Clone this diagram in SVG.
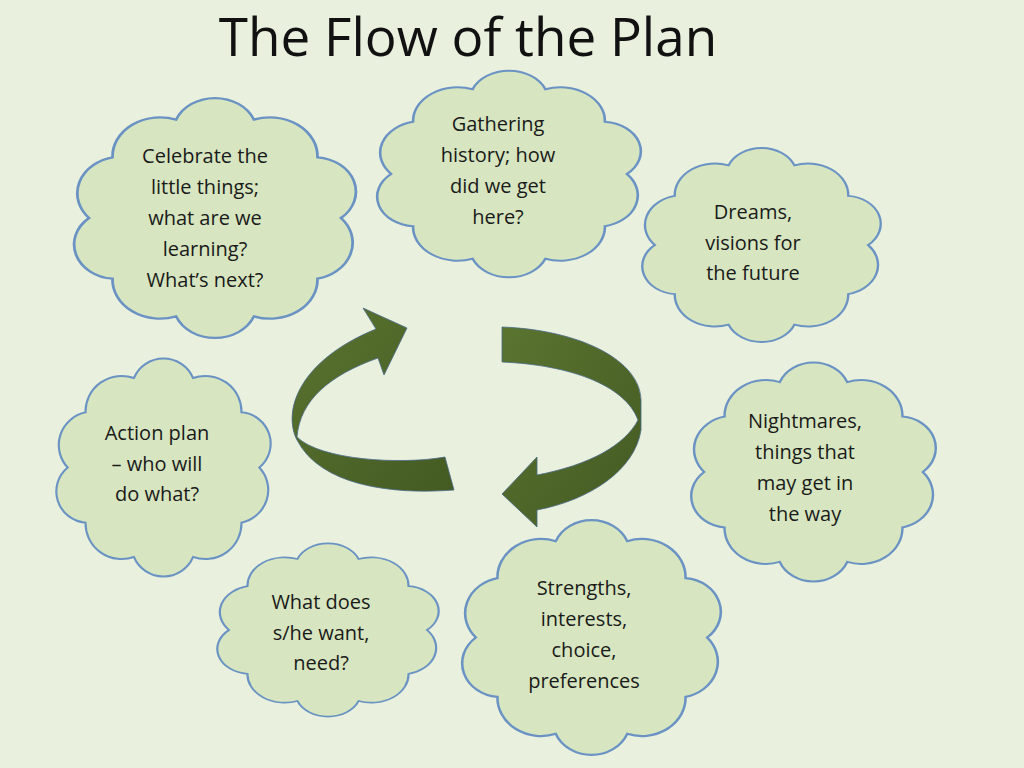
<svg xmlns="http://www.w3.org/2000/svg" xmlns:xlink="http://www.w3.org/1999/xlink" width="1024" height="768" viewBox="0 0 1024 768">
<defs>
<path id="cl" d="M95,50 A16,16 0 0 1 86.6,76.4 A17,17 0 0 1 63.9,92.8 A15,15 0 0 1 36.1,92.8 A17,17 0 0 1 13.4,76.4 A15,15 0 0 1 5,50 A16,16 0 0 1 13.4,23.6 A17,17 0 0 1 36.1,7.2 A15,15 0 0 1 63.9,7.2 A17,17 0 0 1 86.6,23.6 A15,15 0 0 1 95,50 Z"/>
<linearGradient id="ag" x1="0" y1="0" x2="1" y2="1"><stop offset="0" stop-color="#5a7430"/><stop offset="1" stop-color="#435a22"/></linearGradient>
</defs>
<style>
.c{fill:#d7e6c0;stroke:#6a93c4;stroke-width:1}
text{font-family:"Open Sans","Liberation Sans",sans-serif;font-size:20px;fill:#1a1a1a;stroke:none;text-anchor:middle}
.ar{fill:url(#ag);stroke:#4a6a8a;stroke-width:0.8}
</style>
<rect width="1024" height="768" fill="#e9f0dd"/>
<text x="468" y="56" style="font-size:53px;fill:#111">The Flow of the Plan</text>
<g id="n1"><use class="c" xlink:href="#cl" transform="translate(75,103) scale(2.8,2.3)" vector-effect="non-scaling-stroke"/>
<text x="205" y="163">Celebrate the</text><text x="205" y="194">little things;</text><text x="205" y="225">what are we</text><text x="205" y="256">learning?</text><text x="205" y="287">What’s next?</text></g>
<g id="n2"><use class="c" xlink:href="#cl" transform="translate(378,75) scale(2.62,1.98)"/>
<text x="498" y="131">Gathering</text><text x="498" y="162">history; how</text><text x="498" y="193">did we get</text><text x="498" y="224">here?</text></g>
<g id="n3"><use class="c" xlink:href="#cl" transform="translate(643,152) scale(2.37,1.86)"/>
<text x="753" y="219">Dreams,</text><text x="753" y="250">visions for</text><text x="753" y="280">the future</text></g>
<g id="n4"><use class="c" xlink:href="#cl" transform="translate(57,363) scale(2.13,2.09)"/>
<text x="157" y="440">Action plan</text><text x="157" y="471">– who will</text><text x="157" y="501">do what?</text></g>
<g id="n5"><use class="c" xlink:href="#cl" transform="translate(692,367) scale(2.43,2.1)"/>
<text x="805" y="428">Nightmares,</text><text x="805" y="459">things that</text><text x="805" y="490">may get in</text><text x="805" y="521">the way</text></g>
<g id="n6"><use class="c" xlink:href="#cl" transform="translate(218,547) scale(2.2,1.66)"/>
<text x="321" y="609">What does</text><text x="321" y="640">s/he want,</text><text x="321" y="670">need?</text></g>
<g id="n7"><use class="c" xlink:href="#cl" transform="translate(463,525) scale(2.57,2.25)"/>
<text x="584" y="595">Strengths,</text><text x="584" y="626">interests,</text><text x="584" y="657">choice,</text><text x="584" y="688">preferences</text></g>
<g id="connectors">
<path class="ar" d="M454,490 C390,495 320,485 297,440 C282,410 300,360 376,329 L363,308 L407,328 L384,375 L378,358 C330,375 300,400 297,437 C320,460 400,465 445,457 Z"/>
<path class="ar" d="M502,327 C580,330 640,360 641,400 L641,430 C635,470 590,500 537,510 L537,527 L502,494 L537,457 L537,475 C590,465 625,445 638,420 C625,385 570,365 502,362 Z"/>
</g>
</svg>
